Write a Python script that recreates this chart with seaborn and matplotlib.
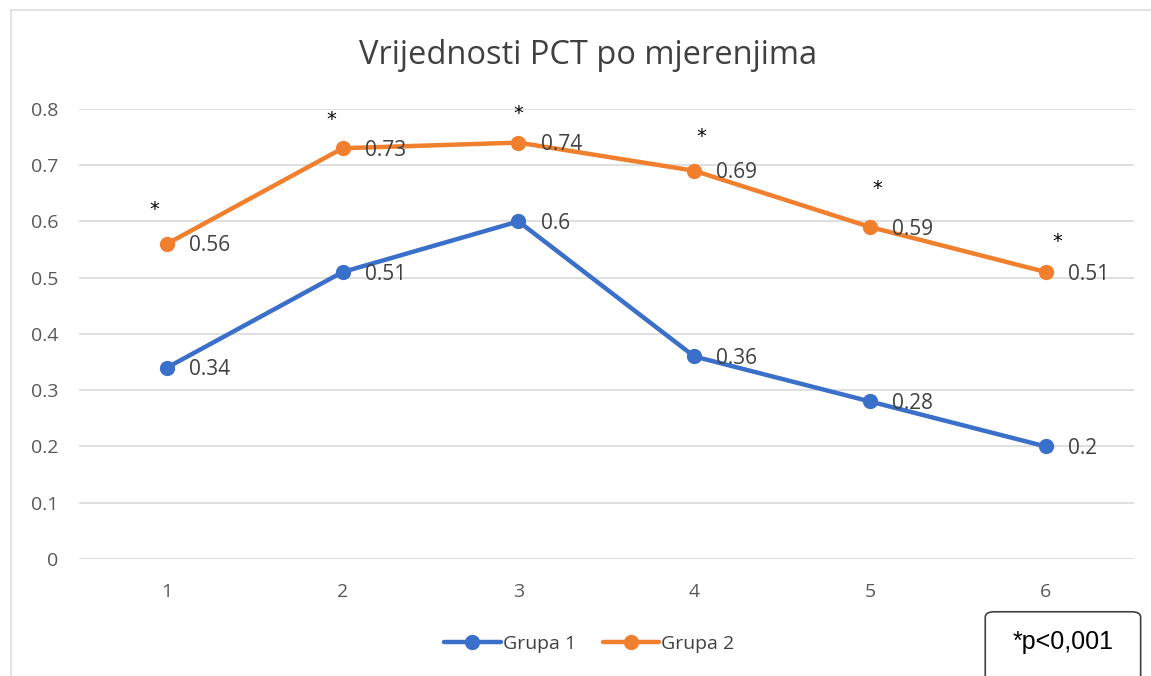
import matplotlib
matplotlib.use("Agg")
import matplotlib.pyplot as plt
from matplotlib.patches import FancyBboxPatch, Rectangle
import pandas as pd
import seaborn as sns

# data
mjerenja = [1, 2, 3, 4, 5, 6]
grupa1 = [0.34, 0.51, 0.60, 0.36, 0.28, 0.20]
grupa2 = [0.56, 0.73, 0.74, 0.69, 0.59, 0.51]
grupe = ['Grupa 1', 'Grupa 2']
yticks = [0, 0.1, 0.2, 0.3, 0.4, 0.5, 0.6, 0.7, 0.8]
ytick_labels = ['0', '0.1', '0.2', '0.3', '0.4', '0.5', '0.6', '0.7', '0.8']

df = pd.DataFrame({
    'mjerenje': mjerenja * 2,
    'pct': grupa1 + grupa2,
    'grupa': [grupe[0]] * 6 + [grupe[1]] * 6,
})

sns.set_theme(style='white')
plt.rcParams['font.family'] = ['Open Sans', 'DejaVu Sans']

blue = '#3a6fca'
orange = '#f07f2e'
grid_c = '#d9d9d9'
txt_c = '#404040'

fig = plt.figure(figsize=(11.51, 6.76), dpi=100)
ax = fig.add_axes([0.0686, 0.173, 0.9164, 0.666])

sns.lineplot(data=df, x='mjerenje', y='pct', hue='grupa', palette=[blue, orange],
             marker='o', markersize=11, markeredgewidth=0, linewidth=3.2, ax=ax, legend=False)

ax.set_xlim(0.5, 6.5)
ax.set_ylim(0, 0.8)
ax.set_xticks(mjerenja)
ax.set_xticklabels([str(m) for m in mjerenja])
ax.set_yticks(yticks)
ax.set_yticklabels(ytick_labels)
ax.tick_params(axis='both', colors='#595959', labelsize=14, length=0)
ax.tick_params(axis='x', pad=17)
ax.tick_params(axis='y', pad=15)
ax.grid(axis='y', color=grid_c, linewidth=1.2)
ax.set_axisbelow(True)
for s in ax.spines.values():
    s.set_visible(False)
ax.set_xlabel('')
ax.set_ylabel('')

# data labels
for x, y in zip(mjerenja, grupa1):
    ax.annotate(f'{y:g}', (x, y), xytext=(16, -1.5), textcoords='offset points',
                ha='left', va='center', fontsize=15, color=txt_c)
for x, y in zip(mjerenja, grupa2):
    ax.annotate(f'{y:g}', (x, y), xytext=(16, -1.5), textcoords='offset points',
                ha='left', va='center', fontsize=15, color=txt_c)

# significance stars
star_dx = [-9, -8, 0, 5, 5, 8]
star_dy = [25, 21, 21, 25, 28, 22]
for x, y, dx, dy in zip(mjerenja, grupa2, star_dx, star_dy):
    ax.annotate('*', (x, y), xytext=(dx, dy), textcoords='offset points',
                ha='center', va='center', fontsize=14, color='black',
                family=['DejaVu Sans'])

fig.text(0.511, 0.918, 'Vrijednosti PCT po mjerenjima', ha='center', va='center',
         fontsize=23.5, color='#404040')

# legend
handles = [plt.Line2D([], [], color=c, linewidth=3.2, marker='o', markersize=10)
           for c in [blue, orange]]
fig.legend(handles, grupe, loc='center', bbox_to_anchor=(0.512, 0.048), ncol=2,
           frameon=False, fontsize=14, handlelength=2.9, handletextpad=0.1,
           columnspacing=1.4, labelcolor='#404040')

# p-value box
box = FancyBboxPatch((0.856, -0.05), 0.135, 0.145, boxstyle='round,pad=0,rounding_size=0.008',
                     transform=fig.transFigure, facecolor='white', edgecolor='#404040',
                     linewidth=1.2, clip_on=False)
fig.patches.append(box)
fig.text(0.924, 0.05, '*p<0,001', ha='center', va='center', fontsize=18,
         color='black', family=['Liberation Sans'])

# chart border
fig.patches.append(Rectangle((0.0095, -0.01), 1.0, 0.995, transform=fig.transFigure,
                             facecolor='none', edgecolor='#e3e3e3', linewidth=1.5))

fig.savefig('out.png', dpi=100)
